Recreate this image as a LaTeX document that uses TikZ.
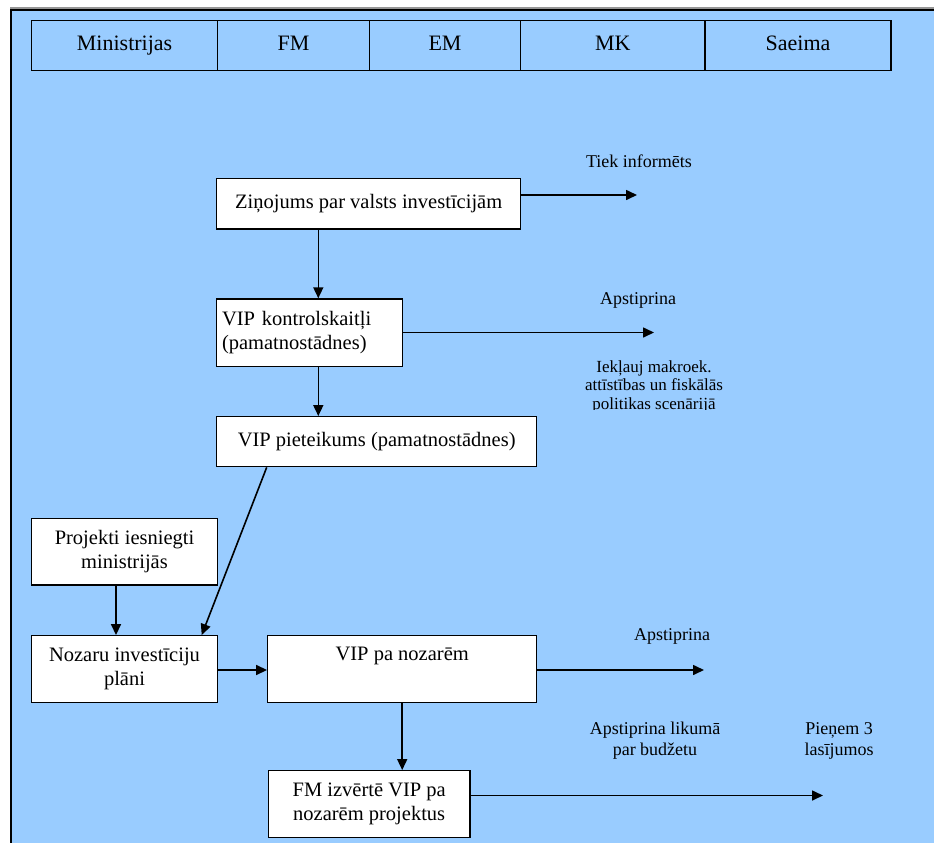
\documentclass[tikz,border=0pt]{standalone}
\usepackage{fontspec}
\setmainfont{Liberation Serif}
\usetikzlibrary{arrows.meta}

\definecolor{sky}{RGB}{153,204,255}
\definecolor{rimgray}{RGB}{150,150,150}

\tikzset{
  box/.style={draw=black, fill=white, line width=1.3pt, inner sep=0pt,
              font=\fontsize{20.5}{24}\selectfont, align=center},
  hcell/.style={draw=black, line width=1.1pt, inner sep=0pt,
              minimum height=50pt, text height=15pt, text depth=5pt,
              font=\fontsize{22}{26}\selectfont},
  arr/.style={line width=1.6pt, -{Triangle[length=11pt,width=10pt]}},
  lbl/.style={inner sep=0pt, font=\fontsize{18}{21}\selectfont, align=center},
  note/.style={inner sep=0pt, font=\fontsize{17}{18.5}\selectfont, align=center}
}

\begin{document}
\begin{tikzpicture}[x=1pt, y=-1pt]
\useasboundingbox (0,0) rectangle (934,843);

% page background and frame
\fill[white] (0,0) rectangle (934,843);
\fill[sky] (11,9) rectangle (934,843);
\draw[rimgray, line width=1.5pt] (10,8) -- (934,8);
\draw[black, line width=2pt] (10,10.5) -- (934,10.5);
\draw[black, line width=2.5pt] (11,9) -- (11,843);

% header row
\node[hcell, minimum width=185.8pt] (hmin) at (124.6,45.7) {Ministrijas};
\node[hcell, minimum width=152pt]   (hfm)  at (293.5,45.7) {FM};
\node[hcell, minimum width=151pt]   (hem)  at (445,45.7)   {EM};
\node[hcell, minimum width=184.5pt] (hmk)  at (612.75,45.7) {MK};
\node[hcell, minimum width=186pt]   (hsa)  at (798,45.7)   {Saeima};

% process boxes
\node[box, minimum width=304pt, minimum height=50.7pt] (zin) at (368.7,203.7)
  {Ziņojums par valsts investīcijām};
\node[box, minimum width=185.6pt, minimum height=67.7pt, text width=175pt, align=left] (ktr) at (309.5,332.8)
  {VIP kontrolskaitļi\\(pamatnostādnes)};
\node[box, minimum width=320pt, minimum height=50pt] (piet) at (376.7,441.7)
  {VIP pieteikums (pamatnostādnes)};
\node[box, minimum width=185.6pt, minimum height=66.7pt] (proj) at (124.5,551.7)
  {Projekti iesniegti\\ministrijās};
\node[box, minimum width=185.6pt, minimum height=67pt] (noz) at (124.5,669.2)
  {Nozaru investīciju\\plāni};
\node[box, minimum width=269pt, minimum height=67pt] (vpn) at (402.2,669.2)
  {VIP pa nozarēm\\[0pt]\strut};
\node[box, minimum width=201.7pt, minimum height=66.6pt] (fm) at (369.2,804)
  {FM izvērtē VIP pa\\nozarēm projektus};

% free arrow ends and guide lines
\coordinate (e1) at (637,195);
\coordinate (e2) at (654,332.5);
\coordinate (e3) at (704,670);
\coordinate (e4) at (823,795.5);
\coordinate (xa) at (318.3,0);
\coordinate (xb) at (116,0);
\coordinate (yc) at (0,670);

% connectors
\draw[arr] (zin.east |- e1) -- (e1);
\draw[arr] (zin.south -| xa) -- (ktr.north -| xa);
\draw[arr] (ktr.east |- e2) -- (e2);
\draw[arr] (ktr.south -| xa) -- (piet.north -| xa);
\draw[arr] ([xshift=-110pt]piet.south) -- ([xshift=77.2pt]noz.north);
\draw[arr] (proj.south -| xb) -- (noz.north -| xb);
\draw[arr] (noz.east |- yc) -- (vpn.west |- yc);
\draw[arr] (vpn.east |- e3) -- (e3);
\draw[arr] (vpn.south) -- (fm.north -| vpn.south);
\draw[arr] (fm.east |- e4) -- (e4);

% labels
\node[lbl] (l1) at (639,161.7) {Tiek informēts};
\node[lbl] (l2) at (638,300.7) {Apstiprina};
\begin{scope}
  \clip (540,340) rectangle (780,409);
  \node[note, anchor=north] (l3) at (654,360) {Iekļauj makroek.\\attīstības un fiskālās\\politikas scenārijā};
\end{scope}
\node[lbl] (l4) at (672,636) {Apstiprina};
\node[lbl] (l5) at (655,741) {Apstiprina likumā\\par budžetu};
\node[lbl] (l6) at (839,741) {Pieņem 3\\lasījumos};
\end{tikzpicture}
\end{document}
